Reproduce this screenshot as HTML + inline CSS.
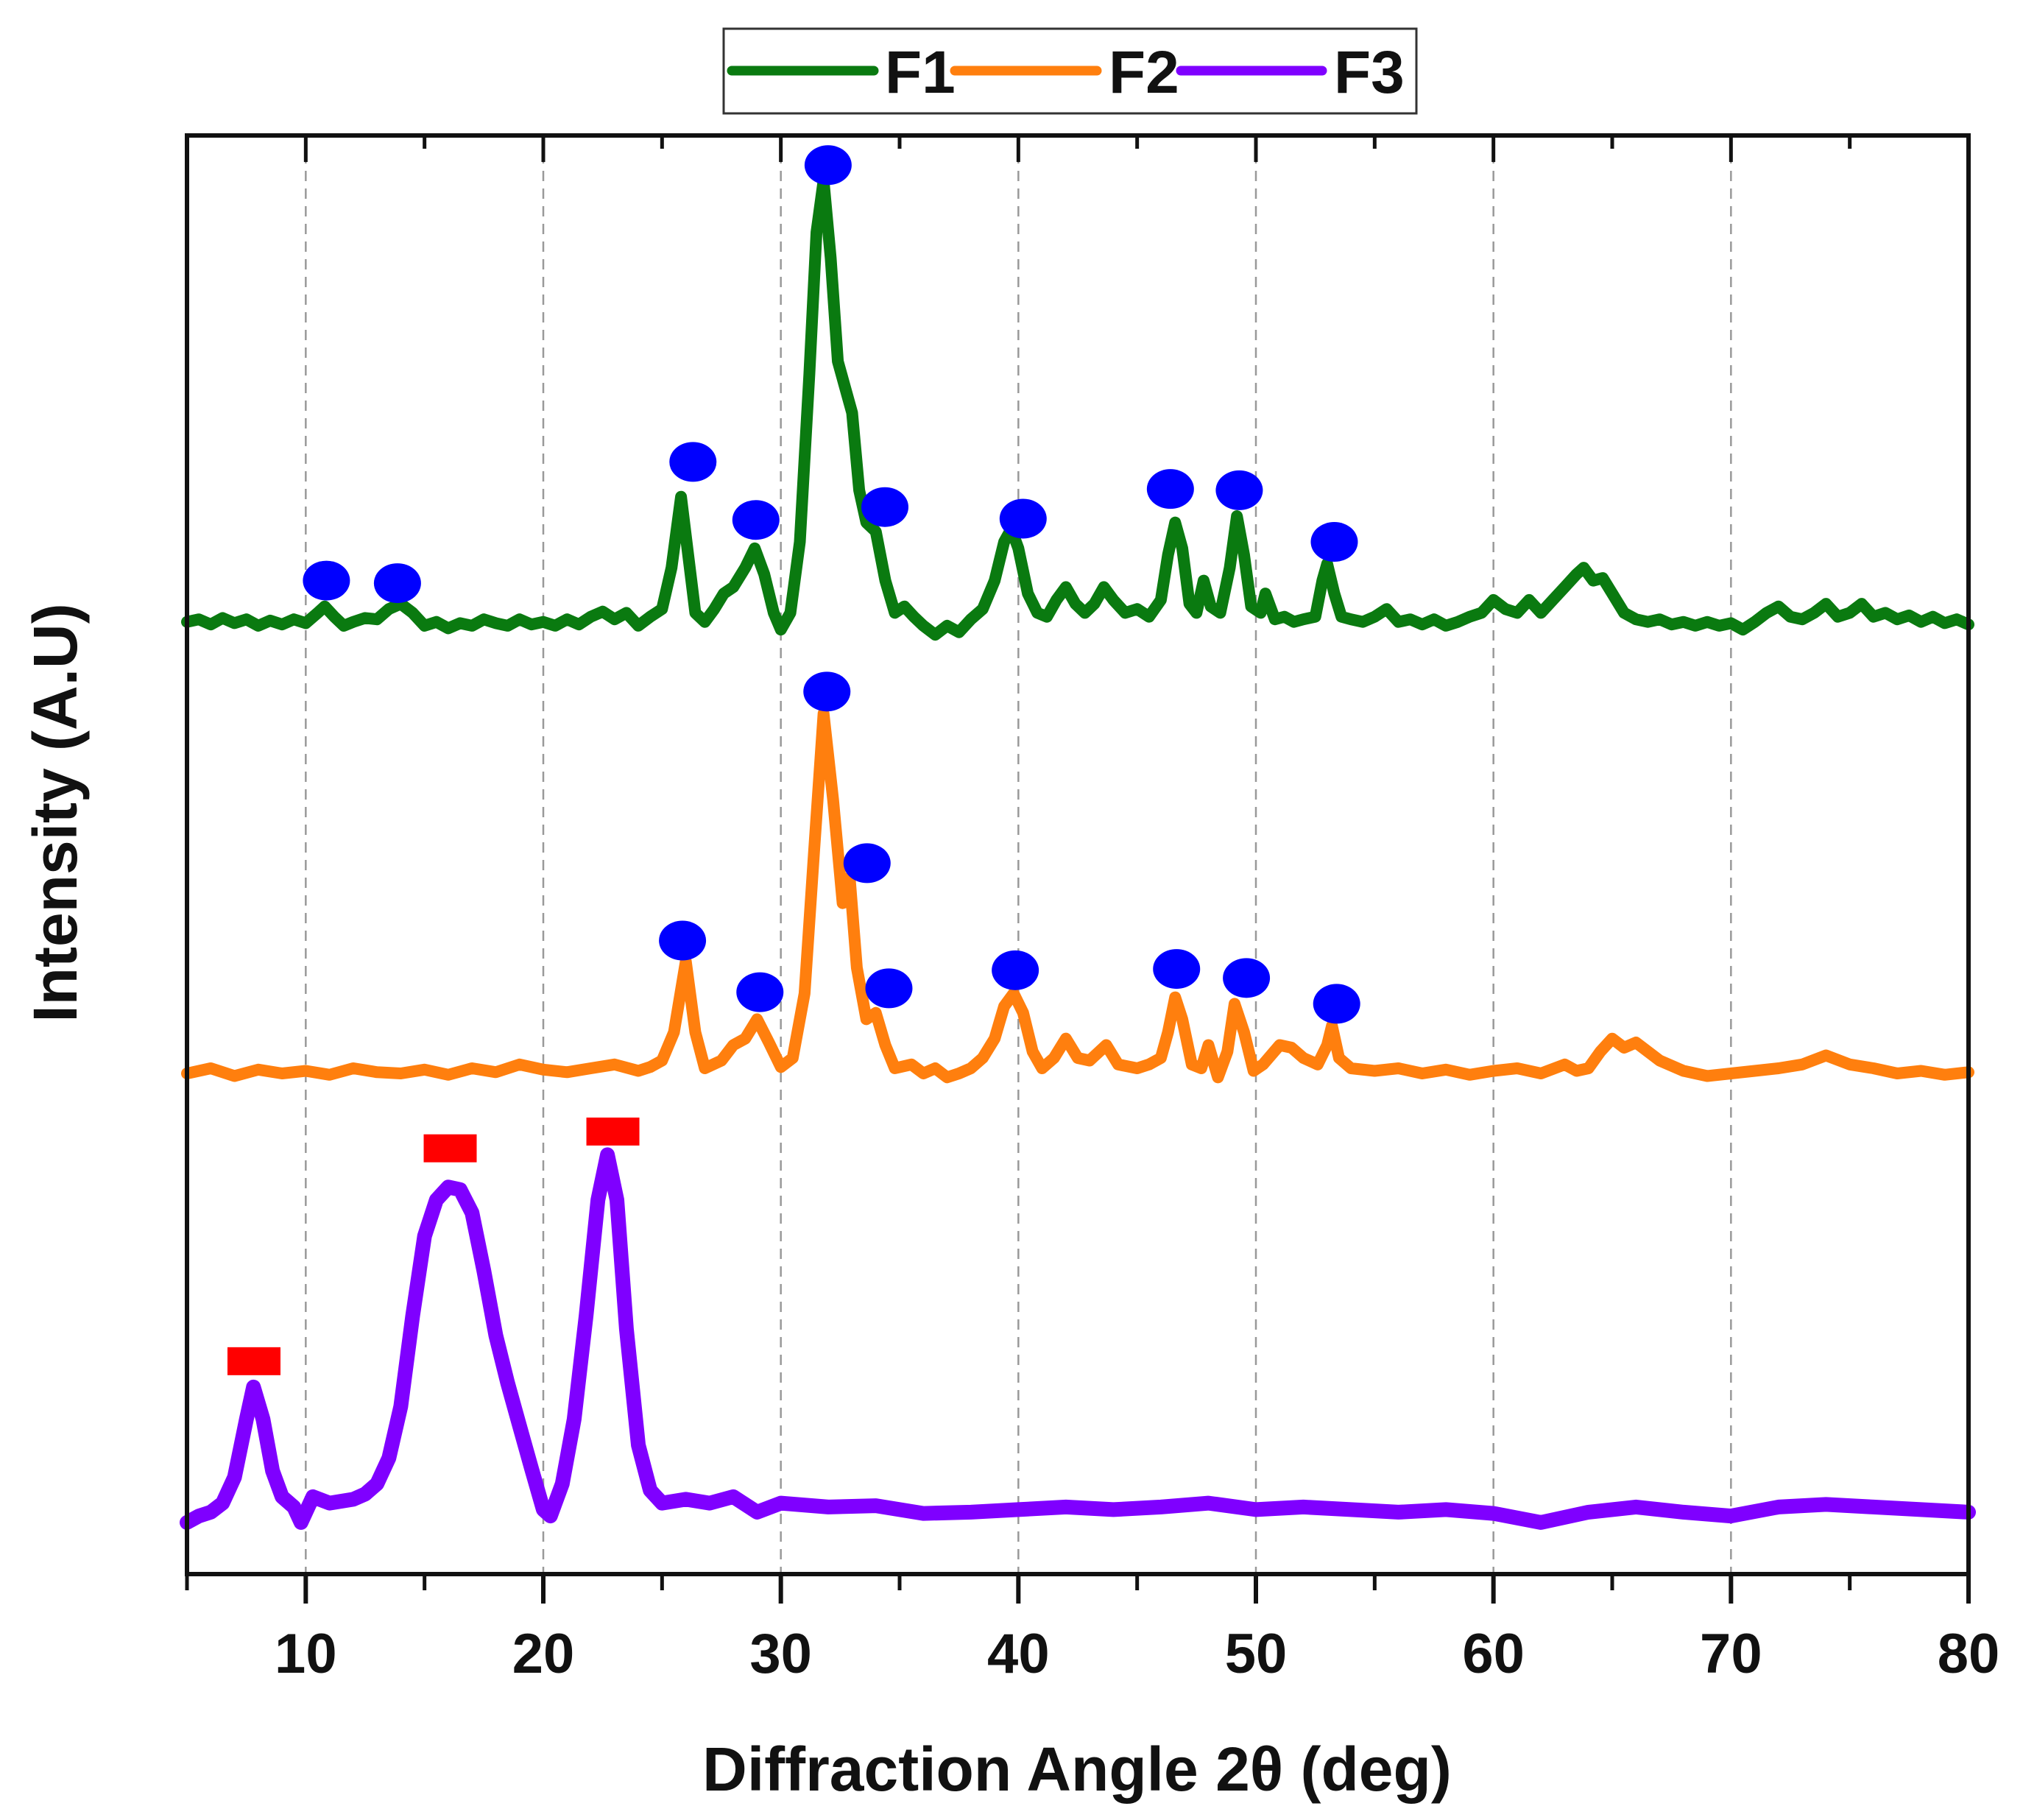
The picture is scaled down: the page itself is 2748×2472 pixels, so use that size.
<!DOCTYPE html>
<html><head><meta charset="utf-8"><style>
html,body{margin:0;padding:0;background:#fff}
svg{display:block}
text{font-family:"Liberation Sans",Arial,sans-serif;font-weight:bold;fill:#111}
</style></head><body>
<svg id="chart" width="2748" height="2472" viewBox="0 0 2748 2472" xmlns="http://www.w3.org/2000/svg">
<g id="grid"></g>
<g id="series"></g>
<g id="marks"></g>
<g id="axes"></g>
<text x="1463" y="2432" font-size="84" text-anchor="middle">Diffraction Angle 2θ (deg)</text>
<text transform="translate(104,1104) rotate(-90)" font-size="84" text-anchor="middle">Intensity (A.U)</text>
<g>
<rect x="983" y="39" width="941" height="115" fill="#fff" stroke="#333" stroke-width="3"/>
<g><line x1="994" y1="96" x2="1187" y2="96" stroke="#0a7a10" stroke-width="13" stroke-linecap="round"/><text x="1202" y="126" font-size="82">F1</text></g>
<g><line x1="1297" y1="96" x2="1490" y2="96" stroke="#ff7f0e" stroke-width="13" stroke-linecap="round"/><text x="1506" y="126" font-size="82">F2</text></g>
<g><line x1="1604" y1="96" x2="1796" y2="96" stroke="#7f00ff" stroke-width="13" stroke-linecap="round"/><text x="1812" y="126" font-size="82">F3</text></g>
</g>
</svg>
<script>
const xTicks=[10,20,30,40,50,60,70,80];
const xMinor=[5,15,25,35,45,55,65,75];
const gridX=[10,20,30,40,50,60,70];
const f1X=[5,5.5,6,6.5,7,7.5,8,8.5,9,9.5,10,10.5,10.8,11.2,11.6,12,12.5,13,13.5,14,14.5,15,15.5,16,16.5,17,17.5,18,18.5,19,19.5,20,20.5,21,21.5,22,22.5,23,23.5,24,24.5,25,25.4,25.8,26.1,26.4,26.8,27.2,27.6,28,28.5,28.9,29.3,29.7,30,30.4,30.8,31.2,31.5,31.8,32.1,32.4,32.7,33,33.3,33.6,34,34.4,34.8,35.2,35.6,36,36.5,37,37.5,38,38.5,39,39.4,39.7,40,40.4,40.8,41.2,41.6,42,42.4,42.8,43.2,43.6,44,44.5,45,45.5,46,46.3,46.6,46.9,47.2,47.5,47.8,48.1,48.5,48.9,49.2,49.5,49.8,50.2,50.4,50.8,51.2,51.6,52,52.5,52.8,53,53.3,53.6,54,54.5,55,55.5,56,56.5,57,57.5,58,58.5,59,59.5,60,60.5,61,61.5,62,62.5,63,63.5,63.8,64.2,64.6,65,65.5,66,66.5,67,67.5,68,68.5,69,69.5,70,70.5,71,71.5,72,72.5,73,73.5,74,74.5,75,75.5,76,76.5,77,77.5,78,78.5,79,79.5,80];
const f1Y=[738,740,736,741,737,740,735,739,736,740,737,745,750,742,735,738,741,740,748,752,745,735,738,733,737,735,740,737,735,740,736,738,735,740,736,742,746,740,745,735,742,748,780,835,790,745,738,748,760,765,780,795,775,745,732,745,800,930,1040,1080,1020,940,920,900,840,815,808,770,745,750,742,735,728,735,730,740,748,770,800,810,795,760,745,742,755,765,752,745,752,765,755,745,748,742,755,790,815,795,752,745,770,750,745,780,820,790,750,745,760,740,742,738,740,742,770,783,760,742,740,738,742,748,738,740,736,740,735,738,742,745,755,748,745,755,745,755,765,775,780,770,772,760,745,740,738,740,736,738,735,738,735,737,732,738,745,750,742,740,745,752,742,745,752,742,745,740,743,738,742,737,740,736];
const f2X=[5,6,7,8,9,10,11,12,13,14,15,16,17,18,19,20,21,22,23,24,24.5,25,25.5,26,26.4,26.8,27.5,28,28.5,29,29.5,30,30.5,31,31.4,31.8,32.2,32.6,32.9,33.2,33.6,34,34.4,34.8,35.5,36,36.5,37,37.5,38,38.5,39,39.4,39.8,40.2,40.6,41,41.5,42,42.5,43,43.7,44.2,45,45.5,46,46.3,46.6,46.9,47.3,47.7,48,48.4,48.8,49.1,49.5,49.9,50.3,51,51.5,52,52.6,53,53.2,53.5,54,55,56,57,58,59,60,61,62,63,63.5,64,64.5,65,65.5,66,67,68,69,70,71,72,73,74,75,76,77,78,79,80];
const f2Y=[388,392,386,391,388,390,387,392,389,388,391,387,392,389,395,391,389,392,395,390,393,398,420,475,420,392,398,410,415,430,412,393,400,450,560,667,600,520,540,470,430,435,410,392,395,388,392,385,388,392,400,415,440,450,435,405,392,400,415,400,398,410,395,392,395,400,420,447,430,395,392,410,385,405,442,420,390,395,410,408,400,395,410,425,400,392,390,392,388,391,387,390,392,388,395,390,392,405,415,408,412,398,390,386,388,390,392,395,402,395,392,388,390,387,389,385,382];
const f3X=[5,5.5,6,6.5,7,7.5,7.8,8.2,8.6,9,9.5,9.8,10.3,11,12,12.5,13,13.5,14,14.5,15,15.5,16,16.5,17,17.5,18,18.5,19,19.5,20,20.3,20.8,21.3,21.8,22.3,22.7,23.1,23.5,24,24.5,25,26,27,28,29,30,32,34,36,38,40,42,44,46,48,50,52,54,56,58,60,62,64,66,68,70,72,74,76,78,80];
const f3Y=[40,45,48,55,75,120,145,120,80,60,52,40,60,55,58,62,70,90,130,200,262,290,300,298,280,235,185,148,115,82,50,45,70,120,200,290,325,290,190,100,65,55,58,55,60,48,55,52,53,47,48,50,52,50,52,55,50,52,50,48,50,47,40,48,52,48,45,52,54,52,50,48];
const dotF1X=[10.87,13.86,26.3,28.95,31.99,34.38,40.2,46.4,49.3,53.3];
const dotF1Y=[770,768,862,817,1092,827,818,841,840,800];
const dotF2X=[25.86,29.12,31.94,33.63,34.55,39.87,46.66,49.6,53.4];
const dotF2Y=[491,451,684,551,454,468,469,462,442];
const rectF3X=[7.82,16.08,22.93];
const rectF3Y=[165,330,343];

const L=254,R=2674,T=184,B=2138;
const X=x=>L+(x-5)*(R-L)/75;
const Y=v=>B-v*(B-T)/1115;
const NS='http://www.w3.org/2000/svg';
function mk(tag,attrs,parent){const e=document.createElementNS(NS,tag);for(const k in attrs)e.setAttribute(k,attrs[k]);parent.appendChild(e);return e;}
const grid=document.getElementById('grid'),series=document.getElementById('series'),marks=document.getElementById('marks'),axes=document.getElementById('axes');
gridX.forEach(g=>{const l=mk('line',{x1:X(g),x2:X(g),y1:T,y2:B,stroke:'#999','stroke-width':2.5,'stroke-dasharray':'14,10'},grid);

});
function drawSeries(xs,ys,color,w,name){let d='';xs.forEach((x,i)=>{d+=(i?'L':'M')+X(x).toFixed(1)+','+Y(ys[i]).toFixed(1);});
const p=mk('path',{d:d,fill:'none',stroke:color,'stroke-width':w,'stroke-linejoin':'round','stroke-linecap':'round'},series);

}
drawSeries(f1X,f1Y,'#0a7a10',16,'series-f1');
drawSeries(f2X,f2Y,'#ff7f0e',16,'series-f2');
drawSeries(f3X,f3Y,'#7f00ff',20,'series-f3');
dotF1X.forEach((x,i)=>{const e=mk('ellipse',{cx:X(x),cy:Y(dotF1Y[i]),rx:32,ry:27,fill:'#0000ff'},marks);

});
dotF2X.forEach((x,i)=>{const e=mk('ellipse',{cx:X(x),cy:Y(dotF2Y[i]),rx:32,ry:27,fill:'#0000ff'},marks);

});
rectF3X.forEach((x,i)=>{const e=mk('rect',{x:X(x)-36,y:Y(rectF3Y[i])-19,width:72,height:38,fill:'#ff0000'},marks);

});
const frame=mk('path',{d:`M${L},${T}H${R}V${B}H${L}Z`,fill:'none',stroke:'#111','stroke-width':6},axes);


xTicks.forEach(t=>{mk('line',{x1:X(t),x2:X(t),y1:B,y2:B+40,stroke:'#111','stroke-width':6},axes);
mk('line',{x1:X(t),x2:X(t),y1:T,y2:T+36,stroke:'#111','stroke-width':5},axes);
const tx=mk('text',{x:X(t),y:2272,'font-size':76,'text-anchor':'middle'},axes);tx.textContent=t;

});
xMinor.forEach(t=>{mk('line',{x1:X(t),x2:X(t),y1:B,y2:B+22,stroke:'#111','stroke-width':5},axes);
mk('line',{x1:X(t),x2:X(t),y1:T,y2:T+18,stroke:'#111','stroke-width':5},axes);});
</script>
</body></html>
